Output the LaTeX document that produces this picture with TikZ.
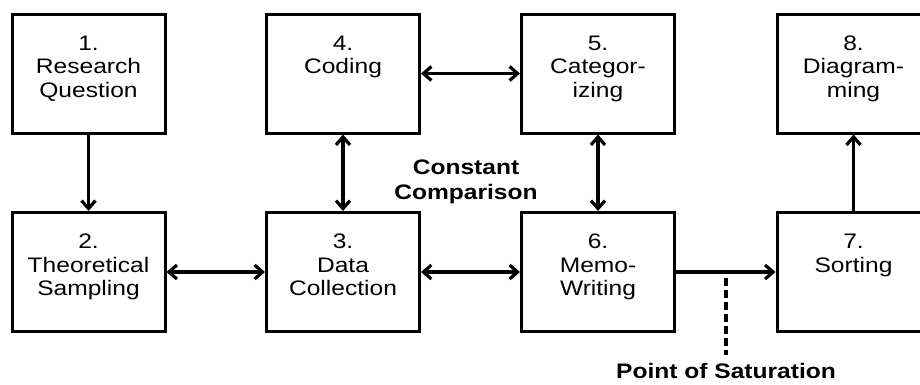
\documentclass[tikz,border=0pt]{standalone}
\usepackage{fontspec}
\setmainfont{Liberation Sans}[FakeStretch=1.17]
\usetikzlibrary{arrows.meta}
\begin{document}
\begin{tikzpicture}[x=1pt,y=-1pt,
  stepbox/.style={draw, line width=3pt, minimum width=153pt, minimum height=119pt, inner sep=0pt},
  boxtext/.style={anchor=north, align=center, inner sep=0pt, font=\fontsize{21}{23.5}\selectfont},
  barb/.tip={Straight Barb[length=8pt,width=14pt]},
  link/.style={line width=3.2pt, -barb},
  both/.style={line width=3.2pt, barb-barb},
  note/.style={align=center, inner sep=0pt, font=\bfseries\fontsize{21}{25}\selectfont}]
\useasboundingbox (0,0) rectangle (920,384);
\clip (0,0) rectangle (920,384);

% process steps, top row
\node[stepbox] (n1) at (88.5,73.5) {};
\node[stepbox] (n4) at (343,73.5) {};
\node[stepbox] (n5) at (598,73.5) {};
\node[stepbox] (n8) at (853.5,73.5) {};
% process steps, bottom row
\node[stepbox] (n2) at (88.5,272) {};
\node[stepbox] (n3) at (343,272) {};
\node[stepbox] (n6) at (598,272) {};
\node[stepbox] (n7) at (853.5,272) {};

% step captions, hung from the top of each box
\node[boxtext] (t1) at ([yshift=-23pt]n1.north) {1.\\Research\\Question};
\node[boxtext] (t4) at ([yshift=-23pt]n4.north) {4.\\Coding};
\node[boxtext] (t5) at ([yshift=-23pt]n5.north) {5.\\Categor-\\izing};
\node[boxtext] (t8) at ([yshift=-23pt]n8.north) {8.\\Diagram-\\ming};
\node[boxtext] (t2) at ([yshift=-23pt]n2.north) {2.\\Theoretical\\Sampling};
\node[boxtext] (t3) at ([yshift=-23pt]n3.north) {3.\\Data\\Collection};
\node[boxtext] (t6) at ([yshift=-23pt]n6.north) {6.\\Memo-\\Writing};
\node[boxtext] (t7) at ([yshift=-23pt]n7.north) {7.\\Sorting};

% connectors
\draw[link] (n1) -- (n2);
\draw[both] (n4) -- (n3);
\draw[both] (n4) -- (n5);
\draw[both] (n5) -- (n6);
\draw[both] (n2) -- (n3);
\draw[both] (n3) -- (n6);
\draw[link] (n6) -- (n7);
\draw[link] (n7) -- (n8);

% annotations
\node[note] (cc) at (466,182) {Constant\\Comparison};
\node[note, anchor=base] (sat) at (726,378) {Point of Saturation};
\coordinate (s1) at (726,278);
\coordinate (s2) at (726,355);
\draw[line width=3.2pt, dash pattern=on 8pt off 4pt] (s1) -- (s2);
\end{tikzpicture}
\end{document}
